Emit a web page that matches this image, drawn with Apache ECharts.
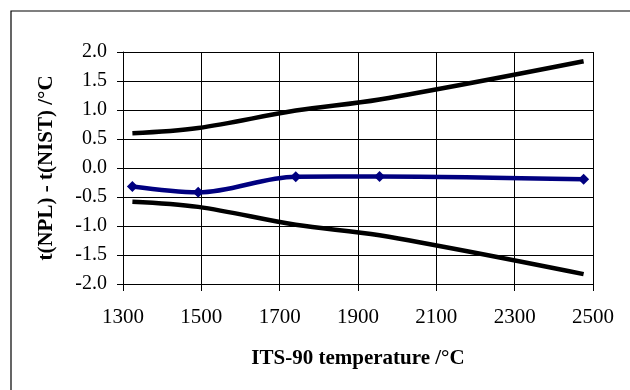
<!DOCTYPE html>
<html>
<head>
<meta charset="utf-8">
<script src="https://cdn.jsdelivr.net/npm/echarts@6/dist/echarts.min.js"></script>
<style>
  html, body { margin: 0; padding: 0; background: #fff; }
  #chart { width: 630px; height: 390px; }
</style>
</head>
<body>
<div id="chart"></div>
<script>
    let chart = echarts.init(document.getElementById('chart'));

    // temperatures of the comparison points (ITS-90, °C)
    let temps = [1324, 1492, 1741, 1955, 2476];
    // t(NPL) - t(NIST)
    let diff = [-0.32, -0.42, -0.15, -0.145, -0.195];
    // uncertainty envelope
    let upper = [0.60, 0.69, 0.99, 1.18, 1.84];
    let lower = [-0.58, -0.67, -0.98, -1.16, -1.83];

    let font = '"Liberation Serif", "Times New Roman", serif';

    function pairs(xs, ys) {
        let out = [];
        for (let i = 0; i < xs.length; i++) {
            out.push([xs[i], ys[i]]);
        }
        return out;
    }

    let option = {
        animation: false,
        backgroundColor: '#fff',
        grid: {
            left: 123,
            right: 37,
            top: 52,
            bottom: 106
        },
        graphic: [{
            type: 'rect',
            shape: { x: 11, y: 11, width: 700, height: 500 },
            style: { fill: 'none', stroke: '#000', lineWidth: 1.2 },
            silent: true
        }],
        xAxis: {
            type: 'value',
            min: 1300,
            max: 2500,
            interval: 200,
            name: 'ITS-90 temperature /°C',
            nameLocation: 'middle',
            nameGap: 64,
            nameTextStyle: { fontFamily: font, fontSize: 21, fontWeight: 'bold', color: '#000' },
            axisLine: { show: true, onZero: false, lineStyle: { color: '#000', width: 1 } },
            axisTick: { show: true, length: 7, lineStyle: { color: '#000' } },
            axisLabel: {
                fontFamily: font, fontSize: 21, color: '#000', margin: 23,
                formatter: function (v) { return String(v); }
            },
            splitLine: { show: true, lineStyle: { color: '#000', width: 1 } }
        },
        yAxis: {
            type: 'value',
            min: -2,
            max: 2,
            interval: 0.5,
            name: 't(NPL) - t(NIST) /°C',
            nameLocation: 'middle',
            nameGap: 66,
            nameTextStyle: { fontFamily: font, fontSize: 21, fontWeight: 'bold', color: '#000' },
            axisLine: { show: true, onZero: false, lineStyle: { color: '#000', width: 1 } },
            axisTick: { show: true, length: 6, lineStyle: { color: '#000' } },
            axisLabel: {
                fontFamily: font, fontSize: 20, color: '#000', margin: 16,
                formatter: function (v) { return v.toFixed(1); }
            },
            splitLine: { show: true, lineStyle: { color: '#000', width: 1 } }
        },
        series: [
            {
                type: 'line',
                data: pairs(temps, upper),
                smooth: 0.35,
                showSymbol: false,
                lineStyle: { color: '#000', width: 4.5 },
                z: 3
            },
            {
                type: 'line',
                data: pairs(temps, lower),
                smooth: 0.35,
                showSymbol: false,
                lineStyle: { color: '#000', width: 4.5 },
                z: 3
            },
            {
                type: 'line',
                data: pairs(temps, diff),
                smooth: 0.35,
                symbol: 'diamond',
                symbolSize: 11,
                itemStyle: { color: '#000080' },
                lineStyle: { color: '#000080', width: 4.5 },
                z: 4
            }
        ]
    };

    chart.setOption(option);
</script>
</body>
</html>
